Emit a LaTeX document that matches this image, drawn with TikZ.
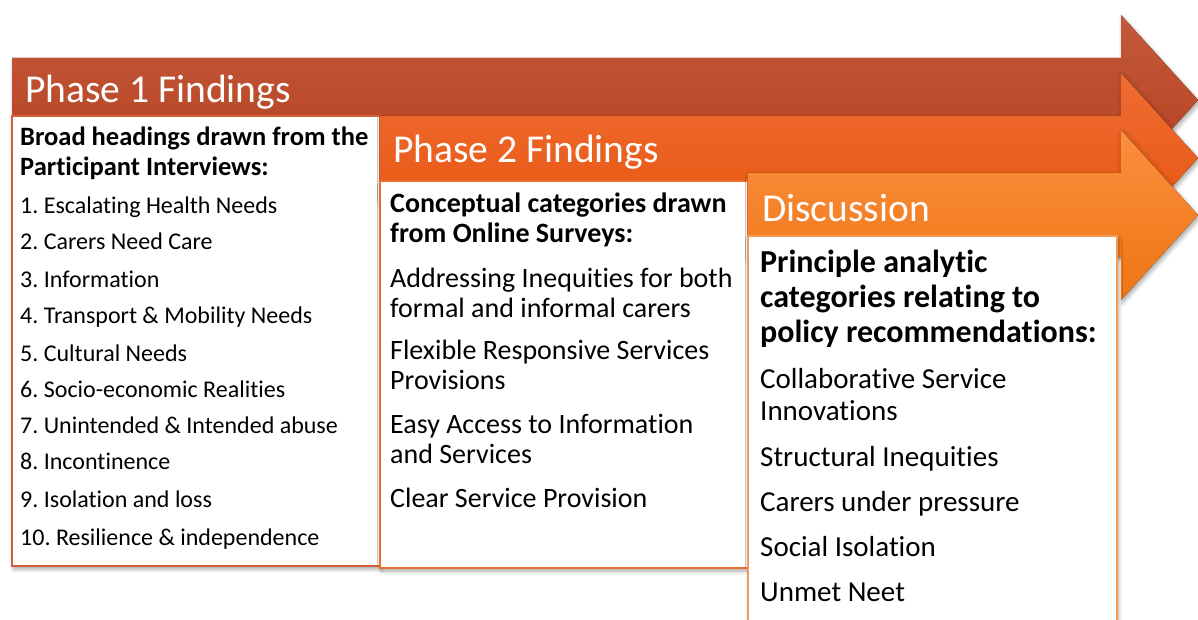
\documentclass[tikz,border=0pt]{standalone}
\usepackage{fontspec}
\setmainfont{Carlito}[Ligatures=NoCommon]
\usetikzlibrary{shadows.blur}
\frenchspacing

\definecolor{oneTop}{HTML}{C4593C}
\definecolor{oneBot}{HTML}{B3401D}
\definecolor{oneEdge}{HTML}{D0603A}
\definecolor{twoTop}{HTML}{EF6C34}
\definecolor{twoBot}{HTML}{E6540B}
\definecolor{twoEdge}{HTML}{EC6E2C}
\definecolor{threeTop}{HTML}{FB8E3E}
\definecolor{threeBot}{HTML}{EE7614}
\definecolor{threeEdge}{HTML}{F59A55}

\begin{document}
\begin{tikzpicture}[x=1pt,y=-1pt,
    phasetitle/.style={anchor=base west, inner sep=0, text=white, font=\fontsize{39.5}{47}\selectfont},
    headone/.style={anchor=base west, inner sep=0, align=left, font=\bfseries\fontsize{26.5}{30}\selectfont},
    headtwo/.style={anchor=base west, inner sep=0, align=left, font=\bfseries\fontsize{28}{30}\selectfont},
    headthree/.style={anchor=base west, inner sep=0, align=left, font=\bfseries\fontsize{32}{35}\selectfont},
    itemone/.style={anchor=base west, inner sep=0, font=\fontsize{24}{30}\selectfont},
    itemtwo/.style={anchor=base west, inner sep=0, align=left, font=\fontsize{28}{30}\selectfont},
    itemthree/.style={anchor=base west, inner sep=0, align=left, font=\fontsize{29}{32}\selectfont},
    softshadow/.style={blur shadow={shadow xshift=1.5pt, shadow yshift=-3pt, shadow blur radius=4pt, shadow opacity=35}}]
    \useasboundingbox (0,0) rectangle (1198,620);
    \clip (0,0) rectangle (1198,620);
    %--- Arguments ----
    \def \headx {1121} % start of the arrow heads
    \def \tipx {1198} % tip of the arrow heads
    \def \body {84} % height of an arrow band
    \def \wing {43} % head overhang above and below the band
    %--- Arrows and boxes ---
    \foreach \L/\T/\R/\bt/\bb/\top/\bot/\edge in {
        12/58/380/116/566/oneTop/oneBot/oneEdge,
        380/116/748/181/568/twoTop/twoBot/twoEdge,
        748/173/1117/236/660/threeTop/threeBot/threeEdge} {
        \fill [top color=\top, bottom color=\bot, softshadow]
            (\L,\T) -- (\headx,\T) -- (\headx,\T-\wing) -- (\tipx,\T+\body/2)
            -- (\headx,\T+\body+\wing) -- (\headx,\T+\body) -- (\L,\T+\body) -- cycle;
        \draw [fill=white, draw=\edge, line width=1.2pt, softshadow] (\L,\bt) rectangle (\R,\bb);
    }
    %--- Titles ---
    \node [phasetitle] (title1) at (25,103) {Phase 1 Findings};
    \node [phasetitle] (title2) at (393,163) {Phase 2 Findings};
    \node [phasetitle] (title3) at (762,222) {Discussion};
    %--- Phase 1 ---
    % multi-line nodes sit on the baseline of their last line
    \node [headone] (head1) at (20,176) {Broad headings drawn from the\\Participant Interviews:};
    \foreach \y/\t [count=\i] in {214/{1. Escalating Health Needs}, 250/{2. Carers Need Care},
        287/{3. Information}, 323/{4. Transport \& Mobility Needs}, 361/{5. Cultural Needs},
        397/{6. Socio-economic Realities}, 433/{7. Unintended \& Intended abuse},
        469/{8. Incontinence}, 507/{9. Isolation and loss}, 545/{10. Resilience \& independence}}
        \node [itemone] (item1-\i) at (20,\y) {\t};
    %--- Phase 2 ---
    \node [headtwo] (head2) at (390,243) {Conceptual categories drawn\\from Online Surveys:};
    \node [itemtwo] (item2-1) at (390,317) {Addressing Inequities for both\\formal and informal carers};
    \node [itemtwo] (item2-2) at (390,389) {Flexible Responsive Services\\Provisions};
    \node [itemtwo] (item2-3) at (390,463) {Easy Access to Information\\and Services};
    \node [itemtwo] (item2-4) at (390,507) {Clear Service Provision};
    %--- Discussion ---
    \node [headthree] (head3) at (760,342) {Principle analytic\\categories relating to\\policy recommendations:};
    \node [itemthree] (item3-1) at (760,420) {Collaborative Service\\Innovations};
    \node [itemthree] (item3-2) at (760,466) {Structural Inequities};
    \node [itemthree] (item3-3) at (760,511) {Carers under pressure};
    \node [itemthree] (item3-4) at (760,556) {Social Isolation};
    \node [itemthree] (item3-5) at (760,601) {Unmet Neet};
\end{tikzpicture}
\end{document}
